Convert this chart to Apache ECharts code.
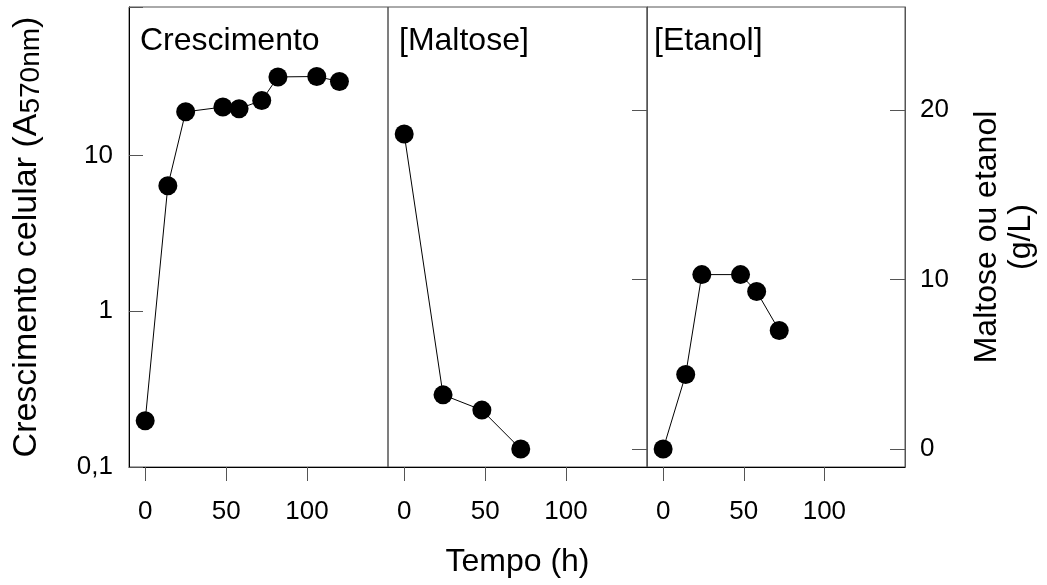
<!DOCTYPE html>
<html>
<head>
<meta charset="utf-8">
<script src="https://cdn.jsdelivr.net/npm/echarts@6/dist/echarts.min.js"></script>
<style>
html, body { margin: 0; padding: 0; background: #fff; }
#chart { width: 1047px; height: 585px; }
</style>
</head>
<body>
<div id="chart"></div>
<script>
// valores
var growthTime = [0, 14, 25, 48, 58, 72, 82, 106, 120];
var growthA570 = [0.198, 6.4, 19.1, 20.5, 20.0, 22.6, 32.0, 32.2, 29.9];
var maltoseTime = [0, 24, 48, 72];
var maltoseGL = [18.6, 3.2, 2.3, 0];
var ethanolTime = [0, 14, 24, 48, 58, 72];
var ethanolGL = [0, 4.4, 10.3, 10.3, 9.3, 7.0];
var timeTicks = [0, 50, 100];
var concTicks = [0, 10, 20];
var growthTicks = [0.1, 1, 10];
var panelTitles = ['Crescimento', '[Maltose]', '[Etanol]'];

var FONT = 'Liberation Sans, Arial, sans-serif';
var chart = echarts.init(document.getElementById('chart'));

function pairs(xs, ys) {
    return xs.map(function (x, i) { return [x, ys[i]]; });
}

function grid(left, width) {
    return {
        left: left, top: 7, width: width, height: 460,
        show: true, borderColor: '#555', borderWidth: 1,
        backgroundColor: 'transparent',
        outerBoundsMode: 'none', containLabel: false
    };
}

function timeAxis(idx, withName) {
    var ax = {
        gridIndex: idx, type: 'value', min: -10, max: 150,
        axisLine: { show: true, onZero: false, lineStyle: { color: '#000', width: 1 } },
        axisTick: { show: true, customValues: timeTicks, length: 14, lineStyle: { color: '#555' } },
        axisLabel: { customValues: timeTicks, fontSize: 26, margin: 32, color: '#000', fontFamily: FONT },
        splitLine: { show: false }
    };
    if (withName) {
        ax.name = 'Tempo (h)';
        ax.nameLocation = 'middle';
        ax.nameGap = 79;
        ax.nameMoveOverlap = false;
        ax.nameTextStyle = { fontSize: 32, color: '#000', fontFamily: FONT };
    }
    return ax;
}

function concAxis(idx, showLabels) {
    var ax = {
        gridIndex: idx, type: 'value', position: 'right', min: -1.06, max: 26.1,
        axisLine: { show: true, onZero: false, lineStyle: { color: '#555' } },
        axisTick: { show: true, inside: true, length: 15, customValues: concTicks, lineStyle: { color: '#555' } },
        axisLabel: { show: showLabels, customValues: concTicks, fontSize: 26, margin: 15, color: '#000', fontFamily: FONT },
        splitLine: { show: false }
    };
    if (showLabels) {
        ax.name = 'Maltose ou etanol\n(g/L)';
        ax.nameLocation = 'middle';
        ax.nameGap = 65;
        ax.nameMoveOverlap = false;
        ax.nameTextStyle = { fontSize: 32, lineHeight: 34, color: '#000', fontFamily: FONT };
    }
    return ax;
}

function lineSeries(idx, xs, ys) {
    return {
        type: 'line', xAxisIndex: idx, yAxisIndex: idx,
        data: pairs(xs, ys),
        symbol: 'circle', symbolSize: 19,
        itemStyle: { color: '#000' },
        lineStyle: { color: '#000', width: 1 },
        clip: false, silent: true
    };
}

var titleX = [140, 399, 654];

option = {
    animation: false,
    backgroundColor: '#fff',
    textStyle: { fontFamily: FONT },
    grid: [grid(129, 259), grid(388, 259), grid(647, 258)],
    xAxis: [timeAxis(0, false), timeAxis(1, true), timeAxis(2, false)],
    yAxis: [
        {
            gridIndex: 0, type: 'log', logBase: 10, min: 0.1, max: 90, position: 'left',
            axisLine: { show: true, onZero: false, lineStyle: { color: '#000' } },
            axisTick: { show: true, inside: true, length: 14, lineStyle: { color: '#555' } },
            axisLabel: {
                fontSize: 26, margin: 16, color: '#000', fontFamily: FONT,
                formatter: function (v) {
                    for (var i = 0; i < growthTicks.length; i++) {
                        if (Math.abs(v - growthTicks[i]) < 1e-6 * growthTicks[i]) {
                            return String(growthTicks[i]).replace('.', ',');
                        }
                    }
                    return '';
                }
            },
            splitLine: { show: false },
            minorTick: { show: false },
            name: '{m|Crescimento celular (A}{s|570nm}{m|)}',
            nameLocation: 'middle',
            nameGap: 84,
            nameMoveOverlap: false,
            nameTextStyle: {
                color: '#000', fontSize: 34, fontFamily: FONT,
                rich: {
                    m: { fontSize: 34, color: '#000', fontFamily: FONT },
                    s: { fontSize: 28, color: '#000', fontFamily: FONT, padding: [8, 0, 0, 0] }
                }
            }
        },
        concAxis(1, false),
        concAxis(2, true)
    ],
    series: [
        lineSeries(0, growthTime, growthA570),
        lineSeries(1, maltoseTime, maltoseGL),
        lineSeries(2, ethanolTime, ethanolGL)
    ],
    graphic: panelTitles.map(function (t, i) {
        return {
            type: 'text', x: titleX[i], y: 41, silent: true,
            style: { text: t, fontSize: 32, fontFamily: FONT, fill: '#000', align: 'left', verticalAlign: 'middle' }
        };
    })
};
chart.setOption(option);
</script>
</body>
</html>
